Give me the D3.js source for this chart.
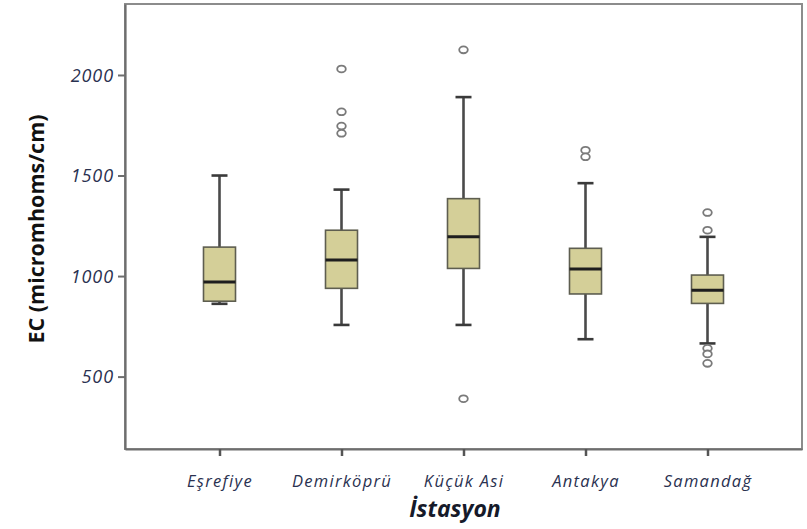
<!DOCTYPE html>
<html>
<head>
<meta charset="utf-8">
<script src="https://cdn.jsdelivr.net/npm/d3@7"></script>
<style>
  html, body { margin: 0; padding: 0; background: #fff; }
  svg { display: block; }
</style>
</head>
<body>
<svg id="chart" width="807" height="529"></svg>
<script>
const categories = ["Eşrefiye", "Demirköprü", "Küçük Asi", "Antakya", "Samandağ"];
const whiskerLow  = [862, 757, 757, 686, 665];
const q1          = [875, 939, 1038, 911, 864];
const median      = [970, 1080, 1195, 1035, 930];
const q3          = [1144, 1228, 1385, 1138, 1005];
const whiskerHigh = [1500, 1430, 1890, 1462, 1195];
const outliers    = [[], [2030, 1817, 1746, 1710], [2125, 390], [1626, 1593], [1316, 1228, 641, 613, 566]];
const yTicks = [500, 1000, 1500, 2000];
const yTitle = "EC (micromhoms/cm)";
const xTitle = "İstasyon";

const svg = d3.select("#chart");
const pLeft = 125, pRight = 802, pTop = 4, pBottom = 449;

const x = d3.scalePoint().domain(categories).range([pLeft, pRight]).padding(0.7746);
const y = d3.scaleLinear().domain([140, 2353]).range([pBottom, pTop]);

// plot frame
svg.append("rect").attr("x", pLeft).attr("y", pTop).attr("width", pRight - pLeft).attr("height", pBottom - pTop)
  .attr("fill", "#fff").attr("stroke", "#8c8c8c").attr("stroke-width", 2);

// y axis
const yAxis = svg.append("g").attr("transform", `translate(${pLeft},0)`)
  .call(d3.axisLeft(y).tickValues(yTicks).tickSize(7).tickSizeOuter(0).tickPadding(4).tickFormat(d3.format("d")));
yAxis.select(".domain").attr("stroke", "#6e6e6e").attr("stroke-width", 2.2);
yAxis.selectAll(".tick line").attr("stroke", "#6e6e6e").attr("stroke-width", 2);
yAxis.selectAll(".tick text").attr("fill", "#2a3150").attr("font-family", "'Open Sans'")
  .attr("font-style", "italic").attr("font-size", 18).attr("letter-spacing", 0.9).attr("dy", "0.34em");

// x axis
const xAxis = svg.append("g").attr("transform", `translate(0,${pBottom})`)
  .call(d3.axisBottom(x).tickSize(7).tickSizeOuter(0).tickPadding(19));
xAxis.select(".domain").attr("stroke", "#6e6e6e").attr("stroke-width", 2.2);
xAxis.selectAll(".tick line").attr("stroke", "#555").attr("stroke-width", 2.5);
xAxis.selectAll(".tick text").attr("fill", "#2a3150").attr("font-family", "'Open Sans'")
  .attr("font-style", "italic").attr("font-size", 16.5).attr("letter-spacing", 1.3);

// boxes
const boxW = 32, capW = 16;
const g = svg.append("g");
categories.forEach((c, i) => {
  const cx = x(c);
  g.append("line").attr("x1", cx).attr("x2", cx).attr("y1", y(whiskerHigh[i])).attr("y2", y(q3[i]))
    .attr("stroke", "#4a4a4a").attr("stroke-width", 2.6);
  g.append("line").attr("x1", cx).attr("x2", cx).attr("y1", y(q1[i])).attr("y2", y(whiskerLow[i]))
    .attr("stroke", "#4a4a4a").attr("stroke-width", 2.6);
  [whiskerHigh[i], whiskerLow[i]].forEach(v => {
    g.append("line").attr("x1", cx - capW / 2).attr("x2", cx + capW / 2).attr("y1", y(v)).attr("y2", y(v))
      .attr("stroke", "#3a3a3a").attr("stroke-width", 2.6);
  });
  g.append("rect").attr("x", cx - boxW / 2).attr("y", y(q3[i])).attr("width", boxW)
    .attr("height", y(q1[i]) - y(q3[i])).attr("fill", "#d4cf98").attr("stroke", "#5e5e50").attr("stroke-width", 1.6);
  g.append("line").attr("x1", cx - boxW / 2).attr("x2", cx + boxW / 2).attr("y1", y(median[i])).attr("y2", y(median[i]))
    .attr("stroke", "#1e1e1e").attr("stroke-width", 3);
  outliers[i].forEach(v => {
    g.append("ellipse").attr("cx", cx).attr("cy", y(v)).attr("rx", 4.3).attr("ry", 3.4)
      .attr("fill", "#fff").attr("stroke", "#7a7a7a").attr("stroke-width", 1.8);
  });
});

// titles
svg.append("text").attr("transform", `translate(44,229) rotate(-90)`).attr("text-anchor", "middle")
  .attr("font-family", "'Open Sans'").attr("font-weight", "bold").attr("font-size", 21.5)
  .attr("fill", "#111").text(yTitle);
svg.append("text").attr("x", 455).attr("y", 517).attr("text-anchor", "middle")
  .attr("font-family", "'Open Sans'").attr("font-weight", "bold").attr("font-style", "italic").attr("font-size", 23)
  .attr("fill", "#161a2a").text(xTitle);
</script>
</body>
</html>
